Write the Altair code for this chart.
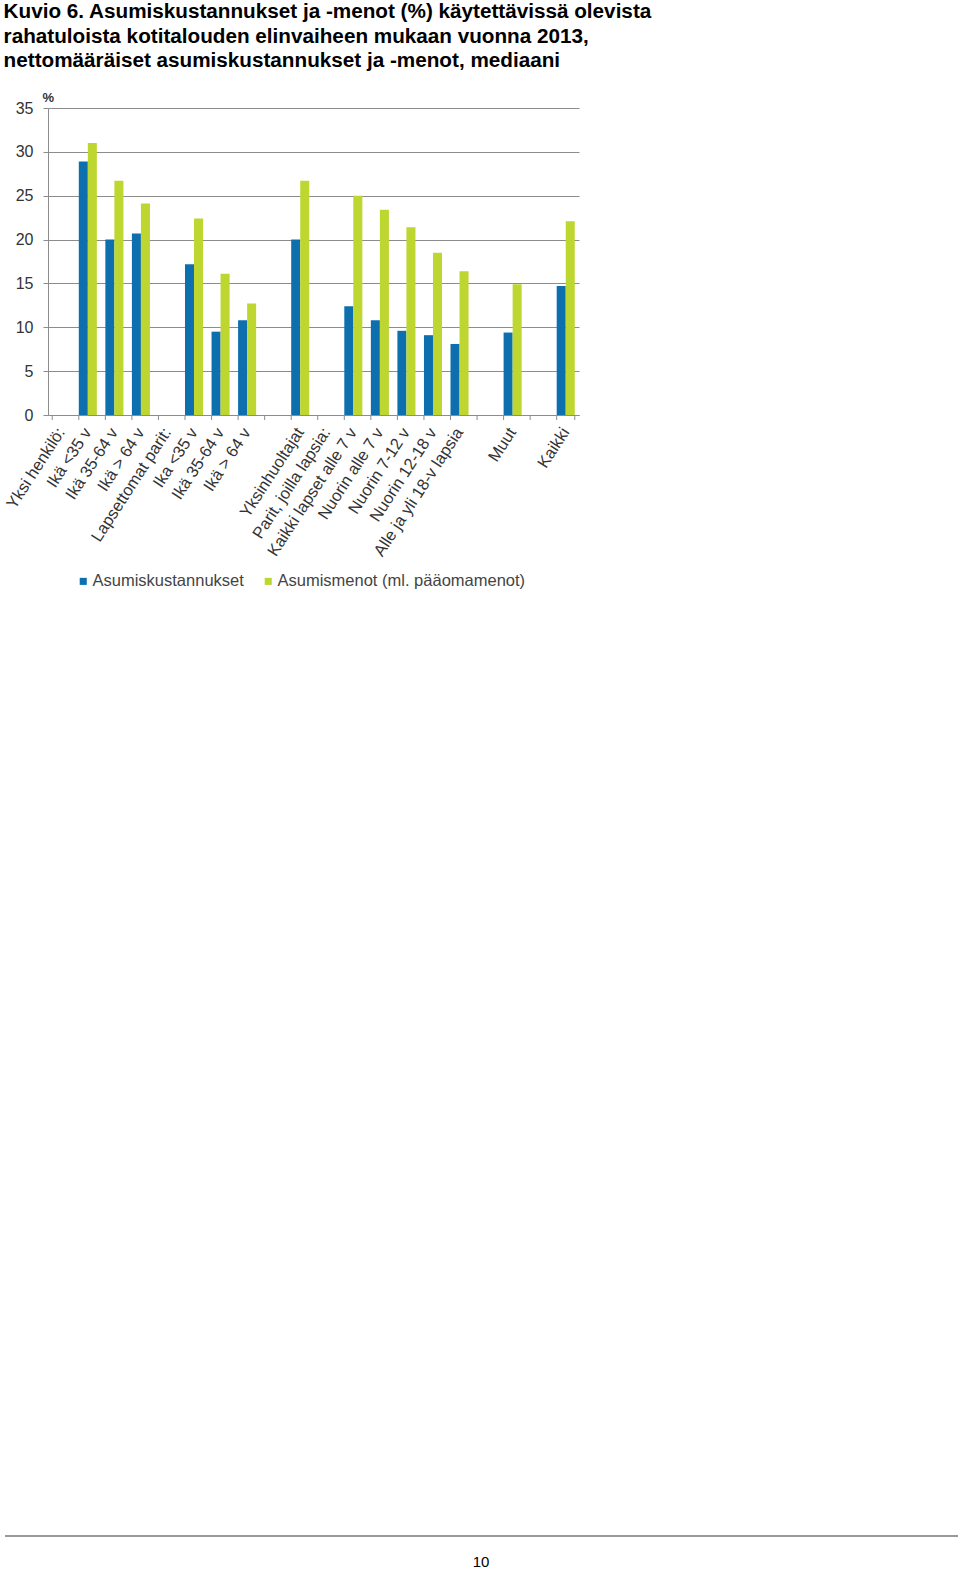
import json
import altair as alt
import pandas as pd

keys = [f"k{i:02d}" for i in range(20)]
labels = ["Yksi henkilö:", "Ikä <35 v", "Ikä 35-64 v", "Ikä > 64 v",
          "Lapsettomat parit:", "Ika <35 v", "Ikä 35-64 v", "Ikä > 64 v", "",
          "Yksinhuoltajat", "Parit, joilla lapsia:", "Kaikki lapset alle 7 v",
          "Nuorin alle 7 v", "Nuorin 7-12 v", "Nuorin 12-18 v",
          "Alle ja yli 18-v lapsia", "", "Muut", "", "Kaikki"]
kustannukset = [None, 28.9, 20.0, 20.7, None, 17.2, 9.5, 10.8, None, 20.0,
                None, 12.4, 10.8, 9.6, 9.1, 8.1, None, 9.4, None, 14.7]
menot = [None, 31.0, 26.7, 24.1, None, 22.4, 16.1, 12.7, None, 26.7,
         None, 25.0, 23.4, 21.4, 18.5, 16.4, None, 14.9, None, 22.1]
series = ["Asumiskustannukset", "Asumismenot (ml. pääomamenot)"]
colors = ["#0e6fae", "#bed630"]
title_lines = ["Kuvio 6. Asumiskustannukset ja -menot (%) käytettävissä olevista",
               "rahatuloista kotitalouden elinvaiheen mukaan vuonna 2013,",
               "nettomääräiset asumiskustannukset ja -menot, mediaani"]
page_number = ["10"]

rows = []
for k, a, b in zip(keys, kustannukset, menot):
    if a is not None:
        rows.append({"key": k, "series": series[0], "value": a})
    if b is not None:
        rows.append({"key": k, "series": series[1], "value": b})
df = pd.DataFrame(rows)
ticks_df = pd.DataFrame({"key": keys})
end_df = pd.DataFrame({"key": keys[-1:]})
footer_df = pd.DataFrame({"page": page_number})

W, H = 531, 307
GRAY = "#8c8c8c"
FONT = "Liberation Sans"
label_expr = (json.dumps(labels, ensure_ascii=False) + "[indexof("
              + json.dumps(keys) + ", datum.value)]")

xscale = alt.Scale(domain=keys, paddingInner=0.32, paddingOuter=0.16)

bars = alt.Chart(df).mark_bar().encode(
    x=alt.X("key:N", scale=xscale, sort=keys,
            axis=alt.Axis(title=None, labelExpr=label_expr, labelAngle=-57,
                          labelAlign="right", labelBaseline="middle",
                          labelPadding=14, ticks=False, domainColor=GRAY,
                          labelFontSize=16.5, labelColor="#333333", labelFont=FONT,
                          labelOverlap=False, labelLimit=300, grid=False)),
    xOffset=alt.XOffset("series:N", scale=alt.Scale(domain=series)),
    y=alt.Y("value:Q", scale=alt.Scale(domain=[0, 35], nice=False),
            axis=alt.Axis(values=list(range(0, 36, 5)), title="%", titleAngle=0,
                          titleX=-6, titleY=-7, titleAlign="left",
                          titleBaseline="alphabetic", titleFontSize=13,
                          titleFontWeight="bold", titleFont=FONT,
                          titleColor="#333333", grid=True, gridColor=GRAY,
                          domainColor=GRAY, tickColor=GRAY, tickSize=5,
                          labelFontSize=16, labelFont=FONT, labelColor="#333333",
                          labelPadding=10)),
    color=alt.Color("series:N", scale=alt.Scale(domain=series, range=colors),
                    legend=alt.Legend(orient="none", legendX=27, legendY=465,
                                      direction="horizontal", title=None,
                                      symbolType="square", symbolSize=50,
                                      symbolStrokeWidth=0, labelLimit=400,
                                      labelFontSize=16.5, labelFont=FONT,
                                      labelColor="#444444", columnPadding=16,
                                      labelOffset=1)),
)

tick_rules = alt.Chart(ticks_df).mark_rule(color=GRAY).encode(
    x=alt.X("key:N", bandPosition=0, title=None),
    y=alt.value(H), y2=alt.value(H + 5))
end_rule = alt.Chart(end_df).mark_rule(color=GRAY).encode(
    x=alt.X("key:N", bandPosition=1, title=None),
    y=alt.value(H), y2=alt.value(H + 5))

footer_rule = alt.Chart(footer_df).mark_rule(color="#999999", strokeWidth=2).encode(
    x=alt.value(-43), x2=alt.value(910), y=alt.value(1428))
footer_text = alt.Chart(footer_df).mark_text(
    fontSize=15, font=FONT, color="black", baseline="alphabetic").encode(
    x=alt.value(433), y=alt.value(1459), text="page:N")

chart = alt.layer(bars, tick_rules, end_rule, footer_rule, footer_text).properties(
    width=W, height=H,
    padding={"left": 3, "top": 1, "right": 0, "bottom": 5},
    title=alt.TitleParams(text=title_lines, anchor="start", fontSize=20.7,
                          font=FONT, fontWeight="bold", color="black",
                          lineHeight=24.5, offset=19, frame="bounds"),
).configure_view(stroke=None)

chart.save("out.html", embed_options={"renderer": "svg", "actions": False})
